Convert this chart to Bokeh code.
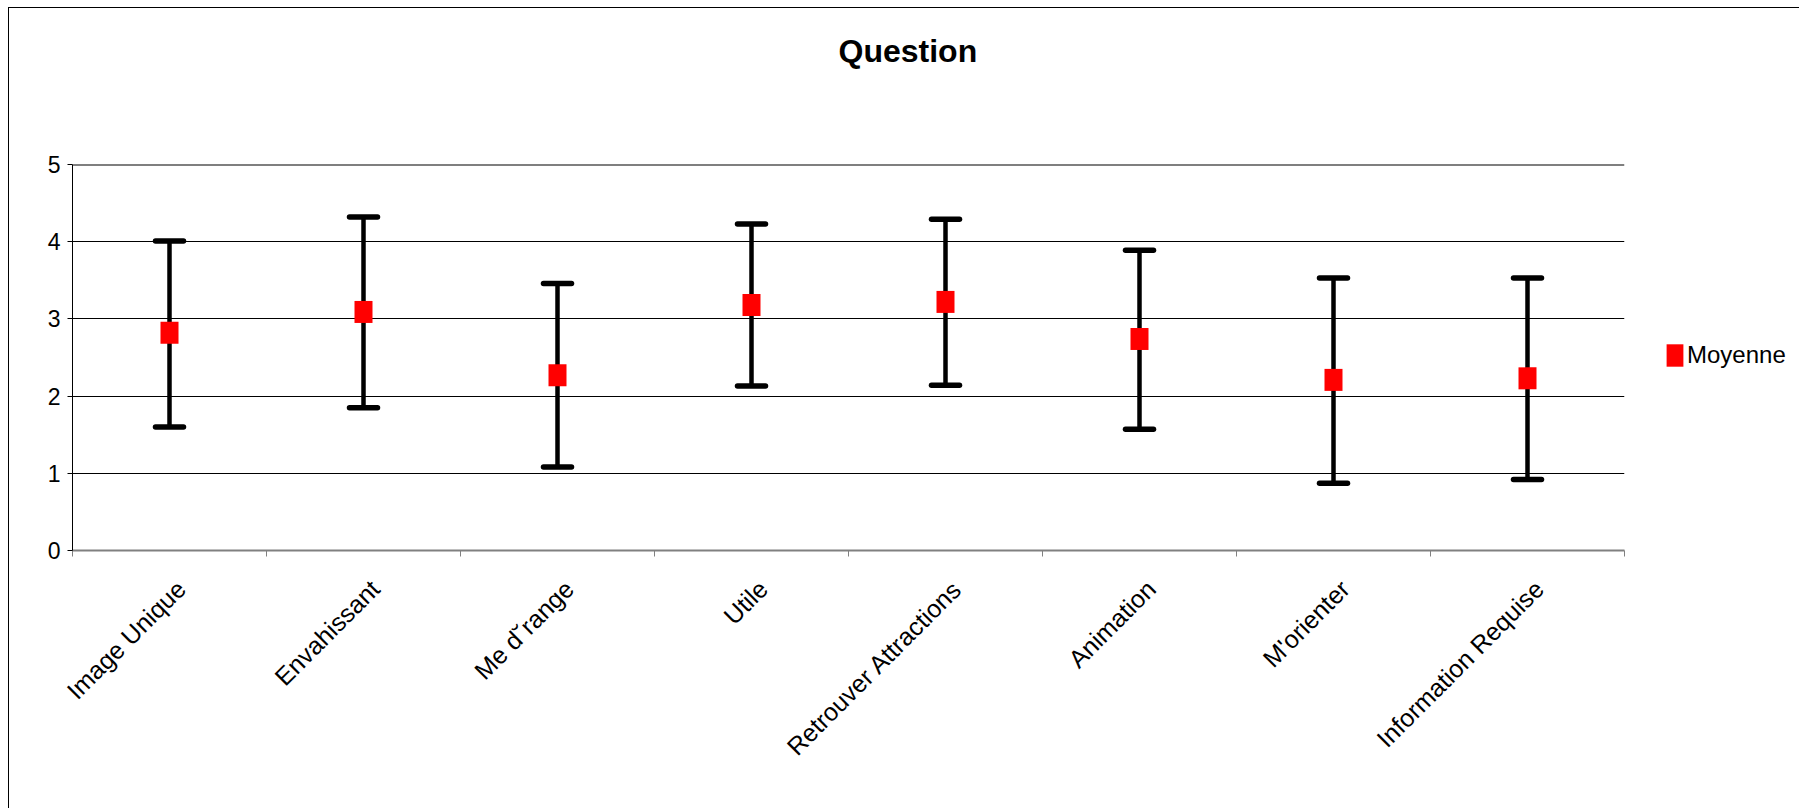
import math
from bokeh.plotting import figure
from bokeh.models import (ColumnDataSource, Range1d, FixedTicker, Whisker, TeeHead,
                          Legend, LegendItem, Title, Span)
from bokeh.embed import file_html
from bokeh.resources import INLINE

# ---- data ----
categories = ["Image Unique", "Envahissant", "Me d˘range", "Utile",
              "Retrouver Attractions", "Animation", "M'orienter", "Information Requise"]
moyenne = [2.82, 3.09, 2.27, 3.18, 3.22, 2.74, 2.21, 2.23]
upper = [4.01, 4.32, 3.46, 4.23, 4.29, 3.89, 3.53, 3.53]
lower = [1.60, 1.85, 1.08, 2.13, 2.14, 1.57, 0.87, 0.92]
y_ticks = [0, 1, 2, 3, 4, 5]
title_text = "Question"
series_name = "Moyenne"

FONT = "Liberation Sans"
LABEL_SHIFT = 0.06   # category labels sit slightly right of the category centre

n = len(categories)
xpos = [i + 0.5 for i in range(n)]
bounds = list(range(n + 1))
label_pos = [x + LABEL_SHIFT for x in xpos]

src = ColumnDataSource(dict(x=xpos, mean=moyenne, upper=upper, lower=lower))

p = figure(frame_width=1552, frame_height=386,
           x_range=Range1d(0, n), y_range=Range1d(min(y_ticks), max(y_ticks)),
           min_border_left=63, min_border_right=171, min_border_top=156,
           min_border_bottom=258, title=None,
           output_backend="svg", toolbar_location=None)

p.styles = {"margin-left": "8px", "margin-top": "7px",
            "border-left": "1px solid black", "border-top": "1px solid black",
            "border-right": "1px solid black"}

# title: a spacer panel next to the frame, then the real title further out
spacer = Title(text=" ", text_font_size="1px", standoff=88)
p.add_layout(spacer, "above")
title = Title(text=title_text, text_font=FONT, text_font_size="32px",
              text_font_style="bold", text_color="black", align="left",
              offset=766, standoff=10)
p.add_layout(title, "above")

p.outline_line_color = None
p.background_fill_color = "white"
p.border_fill_color = "white"

# y axis
p.yaxis.ticker = FixedTicker(ticks=y_ticks)
p.yaxis.major_tick_out = 5
p.yaxis.major_tick_in = 0
p.yaxis.minor_tick_out = 0
p.yaxis.minor_tick_in = 0
p.yaxis.axis_line_color = "black"
p.yaxis.major_tick_line_color = "black"
p.yaxis.major_label_text_font = FONT
p.yaxis.major_label_text_font_size = "23px"
p.yaxis.major_label_text_color = "black"
p.yaxis.major_label_standoff = 7

# x axis
p.xaxis.ticker = FixedTicker(ticks=label_pos, minor_ticks=bounds)
p.xaxis.major_label_overrides = {x: c for x, c in zip(label_pos, categories)}
p.xaxis.major_tick_out = 0
p.xaxis.major_tick_in = 0
p.xaxis.minor_tick_out = 6
p.xaxis.minor_tick_in = 0
p.xaxis.minor_tick_line_color = "#808080"
p.xaxis.axis_line_color = "#808080"
p.xaxis.axis_line_width = 2
p.xaxis.major_label_orientation = math.pi / 4
p.xaxis.major_label_text_font = FONT
p.xaxis.major_label_text_font_size = "25px"
p.xaxis.major_label_text_color = "black"
p.xaxis.major_label_standoff = 28

p.xgrid.visible = False
p.ygrid.ticker = FixedTicker(ticks=y_ticks)
p.ygrid.grid_line_color = "black"
p.ygrid.grid_line_width = 1
p.add_layout(Span(location=y_ticks[-1], dimension="width", line_color="black",
                  line_width=2, level="underlay"))

# error bars
w = Whisker(source=src, base="x", upper="upper", lower="lower",
            line_color="black", line_width=4.5, level="underlay",
            upper_head=TeeHead(size=28, line_width=5.5, line_color="black", line_cap="round"),
            lower_head=TeeHead(size=28, line_width=5.5, line_color="black", line_cap="round"))
p.add_layout(w)

r = p.rect(x="x", y="mean", width=18, height=22, width_units="screen",
           height_units="screen", source=src, fill_color="#FF0000", line_color=None)

legend = Legend(items=[LegendItem(label=series_name, renderers=[r])],
                location=(40, 181), padding=0, margin=0,
                border_line_color=None, background_fill_alpha=0,
                glyph_width=21, glyph_height=28, label_standoff=2,
                label_text_font=FONT, label_text_font_size="24px",
                label_text_color="black")
p.add_layout(legend, "right")

open("out.html", "w").write(file_html(p, INLINE))
